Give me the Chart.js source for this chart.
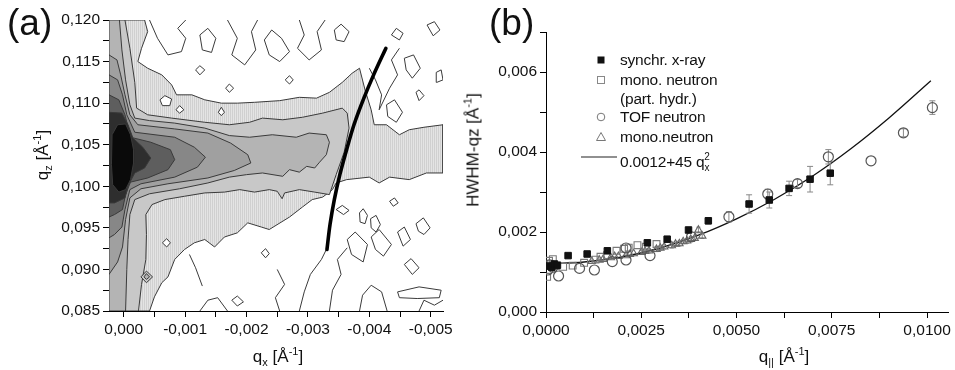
<!DOCTYPE html>
<html>
<head>
<meta charset="utf-8">
<script src="https://cdn.jsdelivr.net/npm/chart.js@4.4.1/dist/chart.umd.min.js"></script>
<style>
  body { margin: 0; background: #fff; font-family: "Liberation Sans", Arial, sans-serif; color: #111; }
  #wrap { position: relative; width: 955px; height: 370px; overflow: hidden; }
  canvas { position: absolute; top: 0; }
  .t { position: absolute; white-space: nowrap; font-size: 17px; line-height: 1; }
  .t sub { font-size: 11px; vertical-align: -4px; }
  .t sup { font-size: 11px; vertical-align: 7px; }
  .rot { transform: translate(-50%, -50%) rotate(-90deg); }
  .cx { transform: translate(-50%, -50%); }
  .panel { position: absolute; font-size: 37px; line-height: 1; }
  .lg { position: absolute; font-size: 15.5px; line-height: 16px; white-space: nowrap; letter-spacing: -0.2px; }
  .lg sub { font-size: 10px; vertical-align: -4px; }
  .lg sup { font-size: 10px; vertical-align: 7px; margin-left: -5px; }
</style>
</head>
<body>
<div id="wrap">
  <canvas id="chartA" width="480" height="370" style="left:0"></canvas>
  <canvas id="chartB" width="475" height="370" style="left:480px"></canvas>

  <div class="panel" style="left:7px;top:4px">(a)</div>
  <div class="panel" style="left:489px;top:4px">(b)</div>

  <div class="t cx" style="left:278px;top:357px">q<sub>x</sub> [Å<sup>-1</sup>]</div>
  <div class="t rot" style="left:43px;top:155px">q<sub>z</sub> [Å<sup>-1</sup>]</div>
  <div class="t rot" style="left:472px;top:150px">HWHM-qz [Å<sup>-1</sup>]</div>
  <div class="t cx" style="left:784px;top:357px">q<sub>||</sub> [Å<sup>-1</sup>]</div>

  <svg style="position:absolute;left:575px;top:50px" width="45" height="120">
    <rect x="22.5" y="6.5" width="7" height="7" fill="#111"/>
    <rect x="22.5" y="26.5" width="7" height="7" fill="none" stroke="#888" stroke-width="1"/>
    <circle cx="26" cy="67" r="3.8" fill="none" stroke="#777" stroke-width="1"/>
    <polygon points="26,82.5 30.5,90.5 21.5,90.5" fill="none" stroke="#777" stroke-width="1"/>
    <line x1="6" y1="107" x2="42" y2="107" stroke="#222" stroke-width="1.2"/>
  </svg>
  <div class="lg" style="left:620px;top:52px">synchr. x-ray</div>
  <div class="lg" style="left:620px;top:72px">mono. neutron</div>
  <div class="lg" style="left:620px;top:91px">(part. hydr.)</div>
  <div class="lg" style="left:620px;top:109px">TOF neutron</div>
  <div class="lg" style="left:620px;top:129px">mono.neutron</div>
  <div class="lg" style="left:620px;top:149px">0.0012+45 q<sub>x</sub><sup>2</sup></div>
</div>

<script>
// ---------- panel (a): contour bands [qx, qz], outermost level first ----------
let band1 = [[0.00024,0.1200],[-0.00034,0.1200],[-0.00039,0.1186],[-0.00029,0.1166],[-0.00023,0.1150],[-0.00039,0.1142],[-0.00062,0.1134],[-0.00078,0.1122],[-0.00086,0.1110],[-0.00111,0.1110],[-0.00132,0.1104],[-0.00159,0.1100],[-0.00185,0.1100],[-0.00213,0.1101],[-0.00254,0.1103],[-0.00286,0.1107],[-0.00314,0.1106],[-0.00335,0.1113],[-0.00356,0.1125],[-0.00372,0.1136],[-0.00384,0.1142],[-0.00393,0.1116],[-0.00403,0.1092],[-0.00408,0.1074],[-0.00428,0.1074],[-0.00449,0.1062],[-0.00465,0.1068],[-0.00489,0.1071],[-0.00520,0.1074],[-0.00520,0.1016],[-0.00493,0.1016],[-0.00465,0.1008],[-0.00433,0.1011],[-0.00416,0.1004],[-0.00400,0.1011],[-0.00363,0.1008],[-0.00346,0.1004],[-0.00340,0.0996],[-0.00324,0.0987],[-0.00307,0.0984],[-0.00291,0.0975],[-0.00270,0.0963],[-0.00237,0.0948],[-0.00224,0.0951],[-0.00202,0.0956],[-0.00185,0.0944],[-0.00164,0.0939],[-0.00148,0.0927],[-0.00132,0.0936],[-0.00115,0.0932],[-0.00099,0.0924],[-0.00083,0.0912],[-0.00072,0.0891],[-0.00062,0.0884],[-0.00050,0.0867],[-0.00042,0.0850],[0.00024,0.0850]];
let band2 = [[0.00024,0.1200],[-0.00002,0.1200],[-0.00010,0.1166],[-0.00018,0.1125],[-0.00021,0.1094],[-0.00039,0.1086],[-0.00078,0.1082],[-0.00132,0.1077],[-0.00172,0.1074],[-0.00205,0.1077],[-0.00226,0.1082],[-0.00259,0.1080],[-0.00291,0.1083],[-0.00324,0.1088],[-0.00356,0.1094],[-0.00364,0.1088],[-0.00367,0.1070],[-0.00359,0.1041],[-0.00346,0.1014],[-0.00335,0.0990],[-0.00311,0.0993],[-0.00286,0.0996],[-0.00262,0.0992],[-0.00258,0.0985],[-0.00250,0.0994],[-0.00237,0.0996],[-0.00213,0.0993],[-0.00189,0.0996],[-0.00164,0.0993],[-0.00132,0.0992],[-0.00099,0.0988],[-0.00067,0.0984],[-0.00046,0.0978],[-0.00036,0.0966],[-0.00037,0.0942],[-0.00036,0.0912],[-0.00029,0.0882],[-0.00024,0.0850],[0.00024,0.0850]];
let band3 = [[0.00024,0.1200],[0.00007,0.1200],[0.00003,0.1164],[-0.00003,0.1128],[-0.00010,0.1098],[-0.00018,0.1082],[-0.00042,0.1079],[-0.00083,0.1076],[-0.00132,0.1070],[-0.00172,0.1061],[-0.00205,0.1059],[-0.00242,0.1062],[-0.00281,0.1059],[-0.00302,0.1064],[-0.00330,0.1062],[-0.00335,0.1053],[-0.00330,0.1038],[-0.00319,0.1029],[-0.00311,0.1022],[-0.00298,0.1024],[-0.00286,0.1017],[-0.00270,0.1020],[-0.00259,0.1012],[-0.00226,0.1016],[-0.00200,0.1014],[-0.00172,0.1011],[-0.00137,0.1004],[-0.00091,0.0997],[-0.00042,0.0991],[-0.00018,0.0984],[-0.00010,0.0966],[-0.00007,0.0936],[-0.00005,0.0900],[-0.00003,0.0850],[0.00024,0.0850]];
let band4 = [[0.00024,0.1158],[0.00011,0.1152],[0.00005,0.1134],[-0.00002,0.1110],[-0.00010,0.1086],[-0.00023,0.1074],[-0.00083,0.1069],[-0.00137,0.1064],[-0.00174,0.1052],[-0.00202,0.1038],[-0.00207,0.1028],[-0.00180,0.1019],[-0.00137,0.1010],[-0.00072,0.1003],[-0.00028,0.0997],[-0.00010,0.0986],[-0.00003,0.0960],[0.00002,0.0927],[0.00010,0.0909],[0.00024,0.0894]];
let band5 = [[0.00024,0.1134],[0.00010,0.1128],[0.00002,0.1110],[-0.00005,0.1086],[-0.00018,0.1065],[-0.00083,0.1059],[-0.00115,0.1047],[-0.00133,0.1035],[-0.00120,0.1023],[-0.00083,0.1011],[-0.00028,0.1003],[-0.00010,0.0996],[-0.00002,0.0972],[0.00003,0.0951],[0.00015,0.0942],[0.00024,0.0938]];
let band6 = [[0.00024,0.1110],[0.00008,0.1104],[-0.00002,0.1086],[-0.00011,0.1059],[-0.00044,0.1053],[-0.00076,0.1044],[-0.00083,0.1032],[-0.00072,0.1020],[-0.00039,0.1010],[-0.00011,0.1005],[-0.00003,0.0990],[0.00002,0.0972],[0.00015,0.0966],[0.00024,0.0963]];
let band7 = [[0.00024,0.1089],[0.00003,0.1088],[-0.00007,0.1074],[-0.00015,0.1058],[-0.00031,0.1047],[-0.00044,0.1034],[-0.00034,0.1022],[-0.00018,0.1016],[-0.00008,0.1002],[-0.00002,0.0986],[0.00015,0.0980],[0.00024,0.0980]];
let band8 = [[0.00019,0.1062],[0.00010,0.1074],[-0.00003,0.1075],[-0.00011,0.1062],[-0.00016,0.1044],[-0.00016,0.1028],[-0.00011,0.1008],[-0.00003,0.0996],[0.00008,0.0993],[0.00018,0.1002],[0.00020,0.1026]];

// white holes inside the lowest level
let holes = [
  [[-0.00059,0.1104],[-0.00067,0.1109],[-0.00078,0.1105],[-0.00075,0.1097],[-0.00063,0.1097]],
  [[-0.00085,0.1092],[-0.00091,0.1097],[-0.00098,0.1092],[-0.00091,0.1088]],
  [[-0.00154,0.1089],[-0.00159,0.1095],[-0.00164,0.1089],[-0.00159,0.1085]],
  [[-0.00063,0.0932],[-0.00070,0.0937],[-0.00076,0.0932],[-0.00070,0.0927]]
];
// small peak near the bottom left (two levels)
let peakOuter = [[-0.00028,0.0891],[-0.00037,0.0898],[-0.00047,0.0891],[-0.00037,0.0884]];
let peakInner = [[-0.00033,0.0891],[-0.00037,0.0895],[-0.00042,0.0891],[-0.00037,0.0888]];

// isolated contour loops and open contour lines in the low-intensity area
let noiseLoops = [
  [[-0.00124,0.1182],[-0.00137,0.1190],[-0.00150,0.1178],[-0.00143,0.1161],[-0.00128,0.1164]],
  [[-0.00229,0.1176],[-0.00241,0.1188],[-0.00257,0.1178],[-0.00270,0.1162],[-0.00254,0.1150],[-0.00237,0.1158]],
  [[-0.00166,0.1118],[-0.00172,0.1123],[-0.00179,0.1118],[-0.00172,0.1113]],
  [[-0.00263,0.1128],[-0.00270,0.1133],[-0.00276,0.1128],[-0.00270,0.1123]],
  [[-0.00343,0.1188],[-0.00354,0.1195],[-0.00367,0.1186],[-0.00359,0.1174],[-0.00346,0.1176]],
  [[-0.00117,0.1140],[-0.00124,0.1145],[-0.00132,0.1140],[-0.00124,0.1134]],
  [[-0.00436,0.1182],[-0.00444,0.1190],[-0.00455,0.1184],[-0.00449,0.1176]],
  [[-0.00494,0.1194],[-0.00506,0.1198],[-0.00515,0.1188],[-0.00504,0.1181]],
  [[-0.00457,0.1154],[-0.00472,0.1158],[-0.00483,0.1142],[-0.00470,0.1130],[-0.00460,0.1140]],
  [[-0.00428,0.1098],[-0.00441,0.1104],[-0.00454,0.1089],[-0.00444,0.1077],[-0.00430,0.1084]],
  [[-0.00476,0.1113],[-0.00481,0.1116],[-0.00489,0.1109],[-0.00481,0.1103]],
  [[-0.00509,0.1137],[-0.00517,0.1140],[-0.00520,0.1128],[-0.00510,0.1125]],
  [[-0.00346,0.0972],[-0.00356,0.0977],[-0.00367,0.0971],[-0.00358,0.0966]],
  [[-0.00384,0.0968],[-0.00390,0.0973],[-0.00397,0.0965],[-0.00393,0.0955],[-0.00385,0.0957]],
  [[-0.00402,0.0961],[-0.00411,0.0965],[-0.00418,0.0954],[-0.00411,0.0945],[-0.00403,0.0950]],
  [[-0.00433,0.0982],[-0.00441,0.0986],[-0.00447,0.0980],[-0.00439,0.0976]],
  [[-0.00476,0.0955],[-0.00488,0.0962],[-0.00499,0.0950],[-0.00489,0.0942],[-0.00480,0.0946]],
  [[-0.00364,0.0936],[-0.00377,0.0945],[-0.00397,0.0930],[-0.00390,0.0909],[-0.00371,0.0918]],
  [[-0.00403,0.0939],[-0.00416,0.0948],[-0.00436,0.0930],[-0.00423,0.0916],[-0.00410,0.0924]],
  [[-0.00446,0.0945],[-0.00457,0.0951],[-0.00467,0.0936],[-0.00455,0.0928]],
  [[-0.00457,0.0906],[-0.00468,0.0913],[-0.00481,0.0902],[-0.00470,0.0894]],
  [[-0.00446,0.0873],[-0.00481,0.0879],[-0.00517,0.0875],[-0.00514,0.0866],[-0.00478,0.0865],[-0.00449,0.0866]],
  [[-0.00176,0.0863],[-0.00185,0.0868],[-0.00195,0.0861],[-0.00185,0.0856]],
  [[-0.00224,0.0920],[-0.00231,0.0925],[-0.00237,0.0919],[-0.00231,0.0914]]
];
let noiseLines = [
  [[-0.00042,0.1200],[-0.00055,0.1178],[-0.00072,0.1158],[-0.00094,0.1162],[-0.00101,0.1178],[-0.00088,0.1190],[-0.00101,0.1200]],
  [[-0.00169,0.1200],[-0.00185,0.1178],[-0.00176,0.1158],[-0.00197,0.1146],[-0.00215,0.1164],[-0.00208,0.1186],[-0.00218,0.1200]],
  [[-0.00286,0.1200],[-0.00294,0.1182],[-0.00283,0.1166],[-0.00302,0.1152],[-0.00322,0.1164],[-0.00315,0.1186],[-0.00328,0.1200]],
  [[-0.00400,0.1142],[-0.00410,0.1128],[-0.00420,0.1110],[-0.00416,0.1092],[-0.00433,0.1118],[-0.00446,0.1134],[-0.00436,0.1152],[-0.00449,0.1166]],
  [[-0.00286,0.0850],[-0.00294,0.0873],[-0.00304,0.0894],[-0.00322,0.0912],[-0.00330,0.0924]],
  [[-0.00335,0.0850],[-0.00340,0.0875],[-0.00354,0.0894],[-0.00348,0.0912],[-0.00364,0.0926]],
  [[-0.00384,0.0850],[-0.00389,0.0869],[-0.00403,0.0881],[-0.00420,0.0873],[-0.00429,0.0850]],
  [[-0.00481,0.0850],[-0.00489,0.0863],[-0.00506,0.0857],[-0.00520,0.0863]],
  [[-0.00254,0.0850],[-0.00247,0.0866],[-0.00262,0.0882],[-0.00250,0.0900]],
  [[-0.00107,0.0918],[-0.00117,0.0902],[-0.00128,0.0880]],
  [[-0.00124,0.0850],[-0.00137,0.0863],[-0.00153,0.0866],[-0.00169,0.0850]]
];

// thick guide line drawn over the map
let guideQx = [-0.00331, -0.00336, -0.00343, -0.00352, -0.00363, -0.00375, -0.00390, -0.00407, -0.00427];
let guideQz = [0.0924, 0.0954, 0.0984, 0.1014, 0.1044, 0.1074, 0.1104, 0.1134, 0.1166];

// ---------- panel (b): HWHM vs q|| ----------
let xrayQ   = [0.00008, 0.00015, 0.00022, 0.0003, 0.00058, 0.00108, 0.00161, 0.00266, 0.00318, 0.00374, 0.00426, 0.00533, 0.00586, 0.00638, 0.00693, 0.00746];
let xrayW   = [0.00115, 0.00112, 0.0012, 0.00117, 0.00141, 0.00145, 0.00153, 0.00173, 0.00182, 0.00205, 0.00228, 0.0027, 0.0028, 0.00309, 0.00332, 0.00347];
let xrayErr = [0, 0, 0, 0, 0, 0, 0, 0, 0, 0, 0.00008, 0.00023, 0.0002, 0.00018, 0.00032, 0.00029];

let monoHQ = [0.00003, 0.00008, 0.00012, 0.00018, 0.00025, 0.00045, 0.0007, 0.001, 0.0013, 0.00143, 0.0016, 0.00185, 0.00205, 0.00217, 0.0024, 0.00262, 0.0029];
let monoHW = [0.00088, 0.00128, 0.00119, 0.00132, 0.00115, 0.00113, 0.00116, 0.00123, 0.00131, 0.00138, 0.00142, 0.00153, 0.00158, 0.00161, 0.00167, 0.00163, 0.0017];

let tofQ   = [0.00005, 0.0001, 0.00018, 0.00033, 0.00088, 0.00127, 0.00174, 0.0021, 0.0021, 0.00273, 0.00382, 0.0048, 0.00582, 0.0066, 0.00741, 0.00853, 0.00938, 0.01014];
let tofW   = [0.00105, 0.00118, 0.00112, 0.0009, 0.00109, 0.00105, 0.00126, 0.0013, 0.0016, 0.00141, 0.00188, 0.00238, 0.00295, 0.00321, 0.00388, 0.00378, 0.00448, 0.00511];
let tofErr = [0, 0, 0, 0, 0, 0, 0, 0, 0, 0, 0, 0.00013, 0.00012, 0.0001, 0.00018, 0, 0.0001, 0.00017];

let monoQ   = [0.0012, 0.0014, 0.0015, 0.0017, 0.0018, 0.0019, 0.0021, 0.0022, 0.0023, 0.0025, 0.0026, 0.0027, 0.0029, 0.003, 0.0031, 0.0033, 0.0034, 0.0035, 0.0036, 0.0037, 0.0038, 0.0039, 0.004, 0.0041];
let monoW   = [0.00127, 0.0013, 0.00132, 0.00136, 0.00139, 0.00139, 0.00141, 0.00144, 0.00146, 0.00149, 0.00152, 0.00153, 0.00157, 0.0016, 0.00163, 0.00166, 0.0017, 0.00171, 0.00176, 0.00178, 0.00182, 0.00184, 0.00205, 0.0019];
let monoErr = [0, 0, 0, 0, 0, 0, 0, 0, 0, 0.00005, 0.00005, 0.00005, 0.00006, 0.00005, 0.00005, 0.00006, 0.00005, 0.00006, 0.00005, 0.00006, 0.00006, 0.00005, 0.00007, 0.00006];

let fitQ = [0, 0.001, 0.002, 0.003, 0.004, 0.005, 0.006, 0.007, 0.008, 0.009, 0.0101];
let fitW = [0.0012, 0.00125, 0.00138, 0.0016, 0.00192, 0.00233, 0.00282, 0.0034, 0.00408, 0.00485, 0.00578];

// ---------- helpers ----------
Chart.defaults.font.family = '"Liberation Sans", Arial, sans-serif';
Chart.defaults.font.size = 15.5;
Chart.defaults.color = '#111';

function pts(list) { return list.map(p => ({x: p[0], y: p[1]})); }
function zip(xs, ys) { return xs.map((x, i) => ({x: x, y: ys[i]})); }
function isMajor(v, step) { return Math.abs(v / step - Math.round(v / step)) < 1e-6; }
function fmt(v, d) { return (Math.abs(v) < 1e-12 ? 0 : v).toFixed(d).replace('.', ','); }

function poly(list, fill, order, closed) {
  let data = pts(list);
  if (closed !== false) data.push(data[0]);
  return {
    data: data, order: order,
    borderColor: '#3a3a3a', borderWidth: 1,
    backgroundColor: fill || 'transparent',
    fill: fill ? 'shape' : false,
    pointRadius: 0, tension: 0
  };
}

function errorBars(xs, ys, es) {
  let out = [];
  xs.forEach((x, i) => {
    if (!es[i]) return;
    out.push({x: x, y: ys[i] - es[i]}, {x: x, y: ys[i] + es[i]}, {x: x, y: null});
  });
  return out;
}

function axisStyle() {
  return {
    grid: {drawOnChartArea: false, drawTicks: true, tickLength: 6, color: '#000', tickWidth: 1},
    border: {display: true, color: '#000', width: 1}
  };
}

// hatch pattern for the lowest contour level
let pc = document.createElement('canvas');
pc.width = 2; pc.height = 2;
let pctx = pc.getContext('2d');
pctx.fillStyle = '#e4e4e4'; pctx.fillRect(0, 0, 2, 2);
pctx.fillStyle = '#d0d0d0'; pctx.fillRect(0, 0, 1, 2);
let hatch = document.getElementById('chartA').getContext('2d').createPattern(pc, 'repeat');

let levelFill = [hatch, '#c8c8c8', '#b4b4b4', '#a0a0a0', '#878787', '#5e5e5e', '#2e2e2e', '#0a0a0a'];
let bands = [band1, band2, band3, band4, band5, band6, band7, band8];

let datasetsA = [];
bands.forEach((b, i) => datasetsA.push(poly(b, levelFill[i], 100 - i)));
holes.forEach(h => datasetsA.push(poly(h, '#ffffff', 90)));
datasetsA.push(poly(peakOuter, '#c8c8c8', 89));
datasetsA.push(poly(peakInner, '#b4b4b4', 88));
noiseLoops.forEach(l => datasetsA.push(poly(l, null, 50)));
noiseLines.forEach(l => datasetsA.push(poly(l, null, 50, false)));
datasetsA.push({
  data: zip(guideQx, guideQz), order: 0,
  borderColor: '#000', borderWidth: 3.6, pointRadius: 0, tension: 0.3, fill: false,
  borderCapStyle: 'round'
});

new Chart(document.getElementById('chartA'), {
  type: 'line',
  data: {datasets: datasetsA},
  options: {
    responsive: false, animation: false, events: [],
    layout: {padding: {left: 0, right: 37, top: 20, bottom: 0}},
    plugins: {legend: {display: false}, tooltip: {enabled: false}},
    scales: {
      x: Object.assign(axisStyle(), {
        type: 'linear', reverse: true, min: -0.0052, max: 0.00024,
        afterFit: s => { s.height = 59; },
        ticks: {stepSize: 0.0005, includeBounds: false, autoSkip: false, maxRotation: 0, padding: 3,
                callback: v => isMajor(v, 0.001) ? fmt(v, 3) : ''}
      }),
      y: Object.assign(axisStyle(), {
        type: 'linear', min: 0.085, max: 0.120,
        afterFit: s => { s.width = 109; },
        ticks: {stepSize: 0.0025, includeBounds: false, autoSkip: false, padding: 3,
                callback: v => isMajor(v, 0.005) ? fmt(v, 3) : ''}
      })
    }
  }
});

// ---------- chart (b) ----------
let scatter = (data, style, order) => Object.assign({
  data: data, order: order, showLine: false, borderWidth: 1, fill: false
}, style);

new Chart(document.getElementById('chartB'), {
  type: 'line',
  data: {
    datasets: [
      {data: zip(fitQ, fitW), order: 10, borderColor: '#111', borderWidth: 1.3, pointRadius: 0,
       cubicInterpolationMode: 'monotone', fill: false},
      {data: errorBars(monoQ, monoW, monoErr), order: 9, borderColor: '#888', borderWidth: 1,
       pointStyle: 'line', pointRadius: 2, pointBorderColor: '#888', spanGaps: false, fill: false},
      {data: errorBars(xrayQ, xrayW, xrayErr).concat(errorBars(tofQ, tofW, tofErr)), order: 8,
       borderColor: '#888', borderWidth: 1, pointStyle: 'line', pointRadius: 3,
       pointBorderColor: '#888', spanGaps: false, fill: false},
      scatter(zip(monoQ, monoW), {pointStyle: 'triangle', pointRadius: 4.3, borderColor: '#666',
        backgroundColor: 'rgba(255,255,255,0)', pointBorderWidth: 1.1}, 6),
      scatter(zip(monoHQ, monoHW), {pointStyle: 'rect', pointRadius: 4.8, borderColor: '#7a7a7a',
        backgroundColor: 'rgba(255,255,255,0)', pointBorderWidth: 1.1}, 5),
      scatter(zip(tofQ, tofW), {pointStyle: 'circle', pointRadius: 5, borderColor: '#555',
        backgroundColor: 'rgba(255,255,255,0)', pointBorderWidth: 1.2}, 4),
      scatter(zip(xrayQ, xrayW), {pointStyle: 'rect', pointRadius: 4.6, borderColor: '#111',
        backgroundColor: '#111', pointBorderWidth: 1}, 3)
    ]
  },
  options: {
    responsive: false, animation: false, events: [],
    layout: {padding: {left: 0, right: 7, top: 32, bottom: 0}},
    plugins: {legend: {display: false}, tooltip: {enabled: false}},
    scales: {
      x: Object.assign(axisStyle(), {
        type: 'linear', min: 0, max: 0.01055,
        afterFit: s => { s.height = 58; },
        ticks: {stepSize: 0.00125, includeBounds: false, autoSkip: false, maxRotation: 0, padding: 3,
                callback: v => isMajor(v, 0.0025) ? fmt(v, 4) : ''}
      }),
      y: Object.assign(axisStyle(), {
        type: 'linear', min: 0, max: 0.007,
        afterFit: s => { s.width = 66; },
        ticks: {stepSize: 0.001, includeBounds: false, autoSkip: false, padding: 3,
                callback: v => isMajor(v, 0.002) ? fmt(v, 3) : ''}
      })
    }
  }
});
</script>
</body>
</html>
